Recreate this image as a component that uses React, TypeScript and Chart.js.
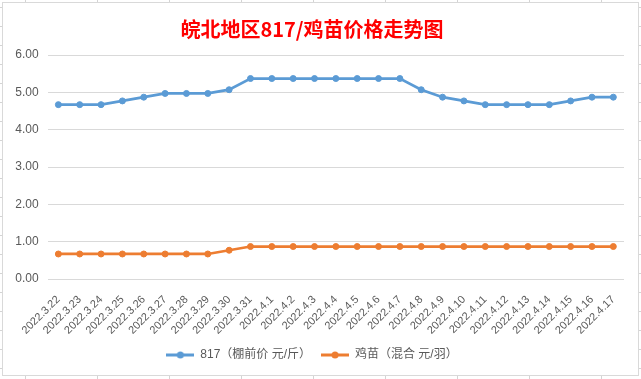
import React, { useEffect, useRef } from "react";
import { Chart, registerables } from "chart.js";

Chart.register(...registerables);

const categories = [
  "2022.3.22", "2022.3.23", "2022.3.24", "2022.3.25", "2022.3.26", "2022.3.27",
  "2022.3.28", "2022.3.29", "2022.3.30", "2022.3.31", "2022.4.1", "2022.4.2",
  "2022.4.3", "2022.4.4", "2022.4.5", "2022.4.6", "2022.4.7", "2022.4.8",
  "2022.4.9", "2022.4.10", "2022.4.11", "2022.4.12", "2022.4.13", "2022.4.14",
  "2022.4.15", "2022.4.16", "2022.4.17",
];

const price817 = [
  4.67, 4.67, 4.67, 4.77, 4.87, 4.97, 4.97, 4.97, 5.07, 5.37, 5.37, 5.37,
  5.37, 5.37, 5.37, 5.37, 5.37, 5.07, 4.87, 4.77, 4.67, 4.67, 4.67, 4.67,
  4.77, 4.87, 4.87,
];

const chickPrice = [
  0.67, 0.67, 0.67, 0.67, 0.67, 0.67, 0.67, 0.67, 0.77, 0.87, 0.87, 0.87,
  0.87, 0.87, 0.87, 0.87, 0.87, 0.87, 0.87, 0.87, 0.87, 0.87, 0.87, 0.87,
  0.87, 0.87, 0.87,
];

const seriesNames = ["817（棚前价 元/斤）", "鸡苗（混合 元/羽）"];
const titleText = "皖北地区817/鸡苗价格走势图";

const BLUE = "#5b9bd5";
const ORANGE = "#ed7d31";
const TEXT = "#595959";
const GRID = "#d9d9d9";

function legendImage(color: string): HTMLCanvasElement {
  const c = document.createElement("canvas");
  c.width = 28;
  c.height = 10;
  const ctx = c.getContext("2d")!;
  ctx.strokeStyle = color;
  ctx.lineWidth = 3;
  ctx.beginPath();
  ctx.moveTo(0, 5);
  ctx.lineTo(28, 5);
  ctx.stroke();
  ctx.fillStyle = color;
  ctx.beginPath();
  ctx.arc(14, 5, 3.5, 0, Math.PI * 2);
  ctx.fill();
  return c;
}

export default function App() {
  const ref = useRef<HTMLCanvasElement | null>(null);

  useEffect(() => {
    if (!ref.current) return;
    const imgBlue = legendImage(BLUE);
    const imgOrange = legendImage(ORANGE);
    const chart = new Chart(ref.current, {
      type: "line",
      data: {
        labels: categories,
        datasets: [
          {
            label: seriesNames[0],
            data: price817,
            borderColor: BLUE,
            backgroundColor: BLUE,
            pointBackgroundColor: BLUE,
            pointBorderColor: BLUE,
            pointRadius: 3,
            pointBorderWidth: 1,
            borderWidth: 2.75,
            pointStyle: "circle",
          },
          {
            label: seriesNames[1],
            data: chickPrice,
            borderColor: ORANGE,
            backgroundColor: ORANGE,
            pointBackgroundColor: ORANGE,
            pointBorderColor: ORANGE,
            pointRadius: 3,
            pointBorderWidth: 1,
            borderWidth: 2.75,
            pointStyle: "circle",
          },
        ],
      },
      options: {
        responsive: false,
        animation: false,
        events: [],
        layout: { padding: { left: 0, right: 17, top: 0, bottom: 8 } },
        plugins: {
          title: {
            display: true,
            text: titleText,
            color: "#ff0000",
            font: { family: "'Noto Sans CJK SC'", size: 20, weight: "bold" },
            padding: { top: 17.5, bottom: 13.5 },
          },
          legend: {
            position: "bottom",
            labels: {
              usePointStyle: true,
              pointStyleWidth: 28,
              padding: 10,
              color: TEXT,
              font: { family: "'Liberation Sans', 'Noto Sans CJK SC'", size: 12 },
              generateLabels: (ch: any) =>
                ch.data.datasets.map((ds: any, i: number) => ({
                  text: ds.label,
                  pointStyle: i === 0 ? imgBlue : imgOrange,
                  fillStyle: ds.borderColor,
                  strokeStyle: ds.borderColor,
                  lineWidth: 0,
                  hidden: false,
                  datasetIndex: i,
                  fontColor: TEXT,
                })),
            },
          },
          tooltip: { enabled: false },
        },
        scales: {
          x: {
            offset: true,
            grid: { display: false, drawTicks: false },
            border: { display: false },
            ticks: {
              autoSkip: false,
              maxRotation: 45,
              minRotation: 45,
              padding: 14,
              color: TEXT,
              font: { family: "'Liberation Sans'", size: 11 },
            },
            afterFit: (s: any) => {
              s.height = 60;
            },
          },
          y: {
            min: 0,
            max: 6,
            grid: { color: GRID, lineWidth: 1, drawTicks: false },
            border: { display: false },
            ticks: {
              stepSize: 1,
              padding: 9,
              color: TEXT,
              font: { family: "'Liberation Sans'", size: 12 },
              callback: (v: any) => Number(v).toFixed(2),
            },
            afterFit: (s: any) => {
              s.width = 47.7;
            },
          },
        },
      },
    });
    return () => chart.destroy();
  }, []);

  return (
    <div
      style={{
        position: "fixed",
        left: 0,
        top: 0,
        width: 641,
        height: 379,
        backgroundColor: "#ffffff",
        backgroundImage:
          "linear-gradient(to right, #d4d4d4 1px, transparent 1px), linear-gradient(to bottom, #d4d4d4 1px, transparent 1px)",
        backgroundSize: "72px 100%, 100% 19px",
        backgroundPosition: "25px 0, 0 7px",
      }}
    >
      <div
        style={{
          position: "absolute",
          left: 2,
          top: 2,
          width: 637,
          height: 374,
          boxSizing: "border-box",
          border: "1px solid #d9d9d9",
          background: "#ffffff",
        }}
      />
      <canvas
        ref={ref}
        width={641}
        height={379}
        style={{ position: "absolute", left: 0, top: 0, width: 641, height: 379 }}
      />
    </div>
  );
}
